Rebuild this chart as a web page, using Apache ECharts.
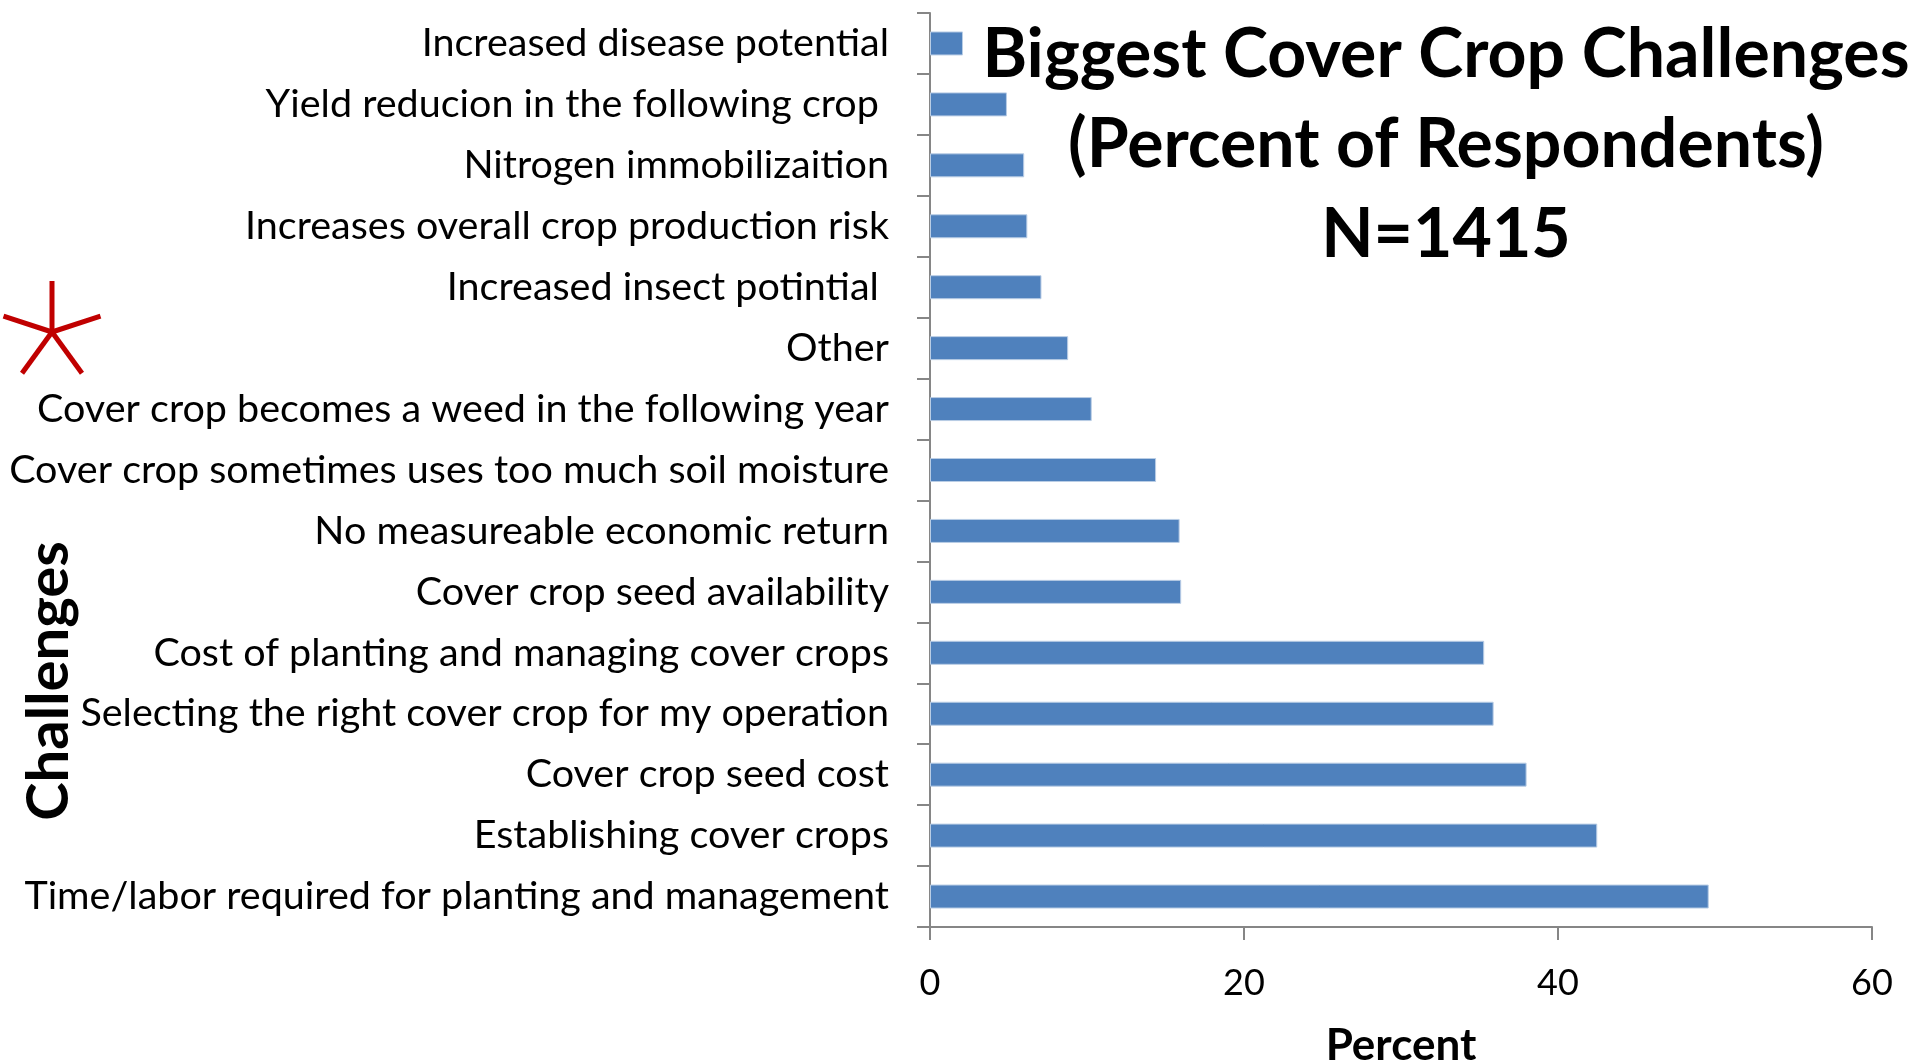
<!DOCTYPE html>
<html>
<head>
<meta charset="utf-8">
<script src="https://cdn.jsdelivr.net/npm/echarts@6/dist/echarts.min.js"></script>
<style>
  html, body { margin: 0; padding: 0; background: #fff; }
  #chart { width: 1917px; height: 1064px; }
</style>
</head>
<body>
<div id="chart"></div>
<script>
// categories top to bottom (axis is inverted)
const challenges = [
  'Increased disease potential',
  'Yield reducion in the following crop ',
  'Nitrogen immobilizaition',
  'Increases overall crop production risk',
  'Increased insect potintial ',
  'Other',
  'Cover crop becomes a weed in the following year',
  'Cover crop sometimes uses too much soil moisture',
  'No measureable economic return',
  'Cover crop seed availability',
  'Cost of planting and managing cover crops',
  'Selecting the right cover crop for my operation',
  'Cover crop seed cost',
  'Establishing cover crops',
  'Time/labor required for planting and management'
];
const percents = [2.1, 4.9, 6.0, 6.2, 7.1, 8.8, 10.3, 14.4, 15.9, 16.0, 35.3, 35.9, 38.0, 42.5, 49.6];
const titleLines = ['Biggest Cover Crop Challenges', '(Percent of Respondents)', 'N=1415'];

const FONT = 'Lato';
const myChart = echarts.init(document.getElementById('chart'));

// red star marker next to "Other"
const starCx = 52, starCy = 332, starR = 51;
const starLines = [0, 1, 2, 3, 4].map(i => {
  const a = -Math.PI / 2 + i * 2 * Math.PI / 5;
  return {
    type: 'line',
    shape: { x1: starCx, y1: starCy, x2: starCx + starR * Math.cos(a), y2: starCy + starR * Math.sin(a) },
    style: { stroke: '#C00000', lineWidth: 5 }
  };
});

myChart.setOption({
  animation: false,
  backgroundColor: '#fff',
  title: {
    text: titleLines.join('\n'),
    left: 1446,
    top: 10,
    textAlign: 'center',
    padding: 0,
    textStyle: { fontFamily: FONT, fontWeight: 'bold', fontSize: 68, lineHeight: 90, color: '#000' }
  },
  grid: { left: 930, right: 45, top: 13, bottom: 137, outerBoundsMode: 'none' },
  xAxis: {
    type: 'value',
    min: 0, max: 60, interval: 20,
    name: 'Percent',
    nameLocation: 'middle',
    nameGap: 97,
    nameTextStyle: { fontFamily: FONT, fontWeight: 'bold', fontSize: 44, color: '#000' },
    axisLine: { show: true, lineStyle: { color: '#868686', width: 2 } },
    axisTick: { show: true, length: 13, lineStyle: { color: '#868686', width: 2 } },
    axisLabel: { margin: 38, fontFamily: FONT, fontSize: 36, color: '#000' },
    splitLine: { show: false }
  },
  yAxis: {
    type: 'category',
    inverse: true,
    data: challenges,
    axisLine: { show: true, lineStyle: { color: '#868686', width: 2 } },
    axisTick: { show: true, length: 13, lineStyle: { color: '#868686', width: 2 } },
    axisLabel: { margin: 41, fontFamily: FONT, fontSize: 39.5, color: '#000' },
    splitLine: { show: false }
  },
  series: [{
    type: 'bar',
    data: percents,
    barWidth: 24,
    itemStyle: { color: '#4F81BD', borderColor: '#B9CDE5', borderWidth: 1 }
  }],
  graphic: [
    {
      type: 'text',
      x: 49, y: 681,
      rotation: Math.PI / 2,
      style: {
        text: 'Challenges',
        font: 'bold 58px ' + FONT,
        fill: '#000',
        textAlign: 'center',
        textVerticalAlign: 'middle'
      }
    },
    { type: 'group', children: starLines }
  ]
});
</script>
</body>
</html>
